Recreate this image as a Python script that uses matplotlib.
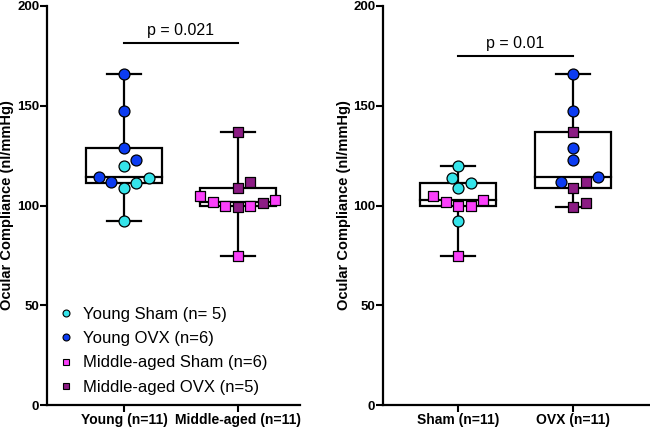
import numpy as np
import matplotlib.pyplot as plt
from matplotlib.lines import Line2D
from matplotlib.patches import Rectangle

plt.rcParams['font.family'] = ['Liberation Sans', 'DejaVu Sans']

# ocular compliance values (nl/mmHg) per animal
young_sham = [120, 114, 111.5, 108.8, 92.2]
young_ovx = [166, 147.5, 128.7, 122.8, 114.2, 112]
mid_sham = [104.7, 103, 101.7, 100, 100, 74.5]
mid_ovx = [137, 112, 108.8, 101.5, 99]

series_labels = ["Young Sham (n= 5)", "Young OVX (n=6)",
                 "Middle-aged Sham (n=6)", "Middle-aged OVX (n=5)"]
left_groups = ["Young (n=11)", "Middle-aged (n=11)"]
right_groups = ["Sham (n=11)", "OVX (n=11)"]
p_left = "p = 0.021"
p_right = "p = 0.01"

colors = ['#35e4ea', '#0c3cf2', '#fb40fb', '#8c1c84']
markers = ['o', 'o', 's', 's']
series = [young_sham, young_ovx, mid_sham, mid_ovx]


def swarm(vals, xpx, ypx, d=12.5):
    # beeswarm in pixel space with half-step candidates, returns x offsets in data units
    vals = np.asarray(vals, float)
    order = np.argsort(vals)
    placed = []
    offs = np.zeros(len(vals))
    cands = sorted(np.arange(-8, 9) * d / 2, key=lambda c: (abs(c), -c))
    for i in order:
        y = vals[i] * ypx
        for x in cands:
            if all((x - px) ** 2 + (y - py) ** 2 >= 0.85 * d * d for px, py in placed):
                break
        placed.append((x, y))
        offs[i] = x / xpx
    return offs


def draw_panel(ax, groups, members, xlim, ptext, pline, ptexty):
    ax.set_xlim(*xlim)
    ax.set_ylim(0, 200)
    fig = ax.figure
    bb = ax.get_position()
    xpx = fig.get_figwidth() * fig.dpi * bb.width / (xlim[1] - xlim[0])
    ypx = fig.get_figheight() * fig.dpi * bb.height / 200.0
    for gi, mem in enumerate(members):
        allv = np.concatenate([series[s] for s in mem])
        q1, med, q3 = np.percentile(allv, [25, 50, 75], method='weibull')
        lo, hi = allv.min(), allv.max()
        bw, cw = 0.66, 0.3
        ax.add_patch(Rectangle((gi - bw / 2, q1), bw, q3 - q1, facecolor='white',
                               edgecolor='black', lw=1.6, zorder=2))
        ax.plot([gi - bw / 2, gi + bw / 2], [med, med], color='black', lw=1.6, zorder=2)
        ax.plot([gi, gi], [q3, hi], color='black', lw=1.6, zorder=1)
        ax.plot([gi, gi], [lo, q1], color='black', lw=1.6, zorder=1)
        ax.plot([gi - cw / 2, gi + cw / 2], [hi, hi], color='black', lw=1.6, zorder=1)
        ax.plot([gi - cw / 2, gi + cw / 2], [lo, lo], color='black', lw=1.6, zorder=1)
        offs = swarm(allv, xpx, ypx)
        start = 0
        for s in mem:
            n = len(series[s])
            ax.scatter(gi + offs[start:start + n], series[s], s=62 if markers[s] == 'o' else 56,
                       marker=markers[s], facecolor=colors[s], edgecolor='black',
                       linewidth=0.9, zorder=3)
            start += n
    ax.plot([0, 1], [pline, pline], color='black', lw=1.5)
    ax.text(0.5, ptexty, ptext, ha='center', va='center', fontsize=11.5)
    ax.set_xticks([0, 1])
    ax.set_xticklabels(groups, fontweight='bold', fontsize=10)
    ax.set_yticks([0, 50, 100, 150, 200])
    ax.set_yticklabels(['0', '50', '100', '150', '200'], fontweight='bold', fontsize=9.5)
    ax.tick_params(direction='out', length=5, width=1.5, pad=0.5)
    for sp in ['top', 'right']:
        ax.spines[sp].set_visible(False)
    for sp in ['left', 'bottom']:
        ax.spines[sp].set_linewidth(1.6)
    ax.set_ylabel("Ocular Compliance (nl/mmHg)", fontweight='bold', fontsize=10.5)


fig = plt.figure(figsize=(6.5, 4.29), dpi=100)
ax1 = fig.add_axes([47 / 650, 1 - 405 / 429, 253 / 650, 399 / 429])
ax2 = fig.add_axes([383 / 650, 1 - 405 / 429, 266 / 650, 399 / 429])

draw_panel(ax1, left_groups, [[0, 1], [2, 3]], (-0.675, 1.544), p_left, 181.7, 187.5)
draw_panel(ax2, right_groups, [[0, 2], [1, 3]], (-0.652, 1.66), p_right, 175, 181)
ax1.yaxis.set_label_coords(-0.13, 0.5)
ax2.yaxis.set_label_coords(-0.12, 0.5)

handles = [Line2D([], [], marker=markers[i], linestyle='none', markersize=5,
                  markerfacecolor=colors[i], markeredgecolor='black', markeredgewidth=0.8)
           for i in range(4)]
ax1.legend(handles, series_labels, loc='upper left', bbox_to_anchor=(0.01, 0.262),
           frameon=False, fontsize=12, handletextpad=0.4, labelspacing=0.55,
           handlelength=1.2, borderaxespad=0)

fig.savefig('out.png', dpi=100)
